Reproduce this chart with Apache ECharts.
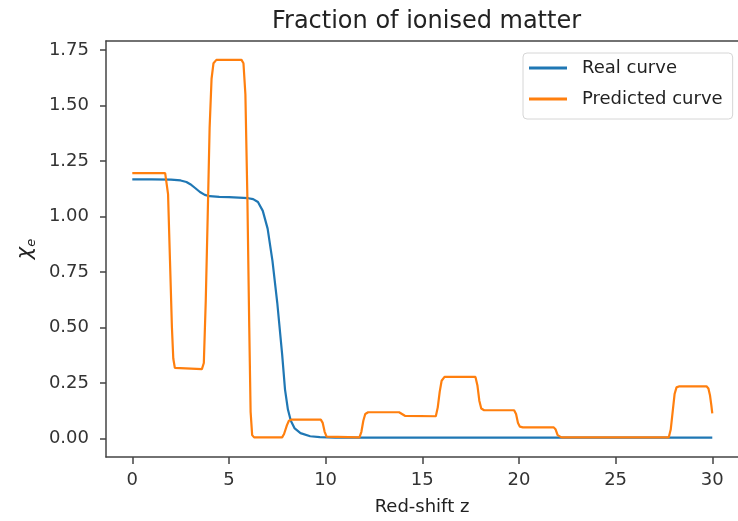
<!DOCTYPE html>
<html>
<head>
<meta charset="utf-8">
<title>Fraction of ionised matter</title>
<script src="https://cdn.jsdelivr.net/npm/echarts@6/dist/echarts.min.js"></script>
<style>
  html, body { margin: 0; padding: 0; background: #fff; }
  #chart { width: 738px; height: 521px; }
</style>
</head>
<body>
<div id="chart"></div>
<script>
// Ionisation fraction x_e against red-shift z: [z, x_e]
const realCurve = [
  [0, 1.167], [1, 1.167], [2, 1.166], [2.5, 1.162], [2.8, 1.155], [3.0, 1.145],
  [3.25, 1.128], [3.5, 1.110], [3.75, 1.097], [4.0, 1.091], [4.5, 1.088],
  [5.0, 1.087], [5.5, 1.085], [6.0, 1.082], [6.25, 1.078], [6.5, 1.065],
  [6.75, 1.025], [7.0, 0.945], [7.25, 0.800], [7.5, 0.610], [7.75, 0.380],
  [7.9, 0.220], [8.05, 0.130], [8.2, 0.080], [8.4, 0.045], [8.7, 0.024],
  [9.2, 0.010], [9.7, 0.006], [10.5, 0.004], [15, 0.004], [20, 0.004],
  [25, 0.004], [30, 0.004]
];

const predictedCurve = [
  [0, 1.195], [1.7, 1.195], [1.78, 1.19], [1.85, 1.10], [1.95, 0.80], [2.05, 0.50],
  [2.12, 0.36], [2.2, 0.318], [2.3, 0.3125],
  [3.6, 0.3125], [3.7, 0.34], [3.8, 0.62], [3.9, 1.00], [4.0, 1.40], [4.1, 1.62],
  [4.2, 1.69], [4.35, 1.705],
  [5.65, 1.705], [5.75, 1.69], [5.85, 1.55], [5.95, 1.10], [6.05, 0.50],
  [6.12, 0.12], [6.2, 0.015], [6.3, 0.005],
  [7.75, 0.005], [7.85, 0.02], [8.0, 0.06], [8.1, 0.08], [8.25, 0.085],
  [9.75, 0.085], [9.85, 0.07], [9.95, 0.03], [10.05, 0.008], [10.15, 0.005],
  [11.75, 0.005], [11.85, 0.03], [11.95, 0.08], [12.05, 0.11], [12.2, 0.118],
  [13.8, 0.118], [13.95, 0.11], [14.1, 0.102], [14.2, 0.10],
  [15.7, 0.10], [15.8, 0.14], [15.9, 0.21], [16.0, 0.26], [16.15, 0.277],
  [17.75, 0.277], [17.85, 0.24], [17.95, 0.17], [18.05, 0.135], [18.2, 0.127],
  [19.75, 0.127], [19.85, 0.11], [19.95, 0.07], [20.05, 0.053], [20.2, 0.05],
  [21.8, 0.05], [21.9, 0.04], [22.0, 0.015], [22.1, 0.006], [22.2, 0.005],
  [27.75, 0.005], [27.85, 0.04], [27.95, 0.12], [28.05, 0.20], [28.15, 0.23],
  [28.3, 0.235],
  [29.7, 0.235], [29.8, 0.225], [29.88, 0.195], [29.95, 0.15], [30.0, 0.113]
];

const xTicks = [0, 5, 10, 15, 20, 25, 30];
const yTicks = [0, 0.25, 0.5, 0.75, 1.0, 1.25, 1.5, 1.75];

const FONT = 'DejaVu Sans';
const SPINE = '#444';
const X_MIN = -1.36;
const X_MAX = 31.33;

const chart = echarts.init(document.getElementById('chart'), null, { renderer: 'canvas' });

chart.setOption({
  animation: false,
  backgroundColor: '#fff',
  textStyle: { fontFamily: FONT },
  title: {
    text: 'Fraction of ionised matter',
    left: 421.5,
    textAlign: 'center',
    top: 5,
    textStyle: { fontFamily: FONT, fontSize: 24, fontWeight: 'normal', color: '#222' }
  },
  legend: {
    orient: 'vertical',
    left: 523,
    top: 53,
    padding: [5, 10, 10, 6],
    itemGap: 11,
    itemWidth: 38,
    itemHeight: 3,
    icon: 'rect',
    backgroundColor: '#fff',
    borderColor: '#d6d6d6',
    borderWidth: 1,
    borderRadius: 4,
    textStyle: {
      fontFamily: FONT, fontSize: 18, color: '#222',
      lineHeight: 20, padding: [0, 0, 0, 10]
    },
    data: ['Real curve', 'Predicted curve']
  },
  grid: {
    left: 106,
    top: 41,
    right: 0,
    bottom: 60.3,
    show: false,
    containLabel: false
  },
  xAxis: [
    {
      type: 'value',
      min: X_MIN,
      max: X_MAX,
      name: 'Red-shift z',
      nameLocation: 'middle',
      nameGap: 41,
      nameTextStyle: { fontFamily: FONT, fontSize: 18, color: '#222' },
      axisLine: { show: true, onZero: false, lineStyle: { color: SPINE, width: 1.5 } },
      splitLine: { show: false },
      axisTick: {
        show: true, length: 7, inside: false,
        customValues: xTicks,
        lineStyle: { color: SPINE, width: 1.5 }
      },
      axisLabel: {
        customValues: xTicks,
        margin: 14,
        fontFamily: FONT, fontSize: 18, color: '#333',
        formatter: v => String(v)
      }
    },
    {
      // top spine of the plot frame
      type: 'value',
      position: 'top',
      min: X_MIN,
      max: X_MAX,
      axisLine: { show: true, onZero: false, lineStyle: { color: SPINE, width: 1.5 } },
      axisTick: { show: false },
      axisLabel: { show: false },
      splitLine: { show: false }
    }
  ],
  yAxis: {
    type: 'value',
    min: -0.0835,
    max: 1.79,
    name: '{x|χ}{s|e}',
    nameLocation: 'middle',
    nameRotate: 90,
    nameGap: 68,
    nameTextStyle: {
      rich: {
        x: { fontFamily: FONT, fontStyle: 'italic', fontSize: 21, color: '#222', lineHeight: 24, verticalAlign: 'middle' },
        s: { fontFamily: FONT, fontStyle: 'italic', fontSize: 13, color: '#222', lineHeight: 24, verticalAlign: 'bottom' }
      }
    },
    axisLine: { show: true, onZero: false, lineStyle: { color: SPINE, width: 1.5 } },
    splitLine: { show: false },
    axisTick: {
      show: true, length: 6, inside: false,
      customValues: yTicks,
      lineStyle: { color: SPINE, width: 1.5 }
    },
    axisLabel: {
      customValues: yTicks,
      margin: 17,
      fontFamily: FONT, fontSize: 18, color: '#333',
      formatter: v => v.toFixed(2)
    }
  },
  series: [
    {
      name: 'Real curve',
      type: 'line',
      xAxisIndex: 0,
      data: realCurve,
      showSymbol: false,
      symbol: 'none',
      smooth: false,
      color: '#1f77b4',
      lineStyle: { color: '#1f77b4', width: 2.2 }
    },
    {
      name: 'Predicted curve',
      type: 'line',
      xAxisIndex: 0,
      data: predictedCurve,
      showSymbol: false,
      symbol: 'none',
      smooth: false,
      color: '#ff7f0e',
      lineStyle: { color: '#ff7f0e', width: 2.2 }
    }
  ]
});
</script>
</body>
</html>
